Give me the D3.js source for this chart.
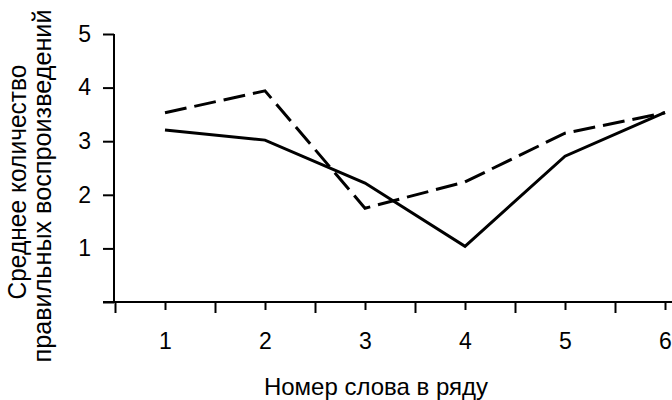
<!DOCTYPE html>
<html><head><meta charset="utf-8">
<script src="https://cdn.jsdelivr.net/npm/d3@7"></script>
<style>body{margin:0;background:#fff}svg{display:block;font-family:"Liberation Sans",Arial,sans-serif}</style>
</head><body>
<svg id="c" width="672" height="400"></svg>
<script>
const categories = [1, 2, 3, 4, 5, 6];
const solidValues = [3.21, 3.02, 2.22, 1.04, 2.72, 3.54];
const dashedValues = [3.53, 3.94, 1.75, 2.24, 3.15, 3.53];
const yTicks = [1, 2, 3, 4, 5];
const xLabel = "Номер слова в ряду";
const yLabelLines = ["Среднее количество", "правильных воспроизведений"];

const svg = d3.select("#c");
const x = d3.scaleLinear().domain([1, 6]).range([165, 665]);
const y = d3.scaleLinear().domain([0, 5]).range([302, 34]);
const x0 = x(0.5) - 1;
const fmt = d3.format("d");

// y axis
const yAxis = d3.axisLeft(y).tickValues([0].concat(yTicks)).tickSize(11).tickPadding(12)
  .tickFormat(d => d === 0 ? "" : fmt(d));
const gy = svg.append("g").attr("transform", `translate(${x0},0)`).call(yAxis);
gy.select(".domain").remove();
gy.append("line").attr("x1", 0).attr("x2", 0).attr("y1", y(0)).attr("y2", y(5))
  .attr("stroke", "#000").attr("stroke-width", 2);
gy.selectAll(".tick line").attr("stroke", "#000").attr("stroke-width", 2);
gy.selectAll(".tick text").attr("font-size", 23).attr("fill", "#000")
  .attr("font-family", "Liberation Sans, Arial, sans-serif");

// x axis
const gx = svg.append("g").attr("transform", `translate(0,${y(0)})`);
gx.append("line").attr("x1", x0 - 11).attr("x2", 672).attr("y1", 0).attr("y2", 0)
  .attr("stroke", "#000").attr("stroke-width", 2);
const majorAxis = d3.axisBottom(x).tickValues([0.5, 1.5, 2.5, 3.5, 4.5, 5.5]).tickSize(11).tickFormat("");
const gMaj = svg.append("g").attr("transform", `translate(0,${y(0)})`).call(majorAxis);
gMaj.select(".domain").remove();
gMaj.selectAll(".tick line").attr("stroke", "#000").attr("stroke-width", 2);
const minorAxis = d3.axisBottom(x).tickValues(categories).tickSize(8).tickPadding(23).tickFormat(fmt);
const gMin = svg.append("g").attr("transform", `translate(0,${y(0)})`).call(minorAxis);
gMin.select(".domain").remove();
gMin.selectAll(".tick line").attr("stroke", "#000").attr("stroke-width", 2);
gMin.selectAll(".tick text").attr("font-size", 23).attr("fill", "#000")
  .attr("font-family", "Liberation Sans, Arial, sans-serif");

// lines
const line = d3.line().x((d, i) => x(categories[i])).y(d => y(d));
svg.append("path").datum(solidValues).attr("d", line).attr("fill", "none")
  .attr("stroke", "#000").attr("stroke-width", 3).attr("stroke-linejoin", "miter");
svg.append("path").datum(dashedValues).attr("d", line).attr("fill", "none")
  .attr("stroke", "#000").attr("stroke-width", 3).attr("stroke-dasharray", "22,8");

// titles
svg.append("text").attr("x", 376).attr("y", 395).attr("text-anchor", "middle")
  .attr("font-size", 24).attr("fill", "#000").text(xLabel);
const yl = svg.append("g").attr("transform", "translate(26,184) rotate(-90)");
const lens = [235, 353];
const offs = [2, -2];
yLabelLines.forEach((t, i) => yl.append("text")
  .attr("x", -lens[i] / 2 + offs[i]).attr("y", i * 25)
  .attr("font-size", 25).attr("fill", "#000")
  .attr("textLength", lens[i]).attr("lengthAdjust", "spacingAndGlyphs")
  .text(t));
</script>
</body></html>
